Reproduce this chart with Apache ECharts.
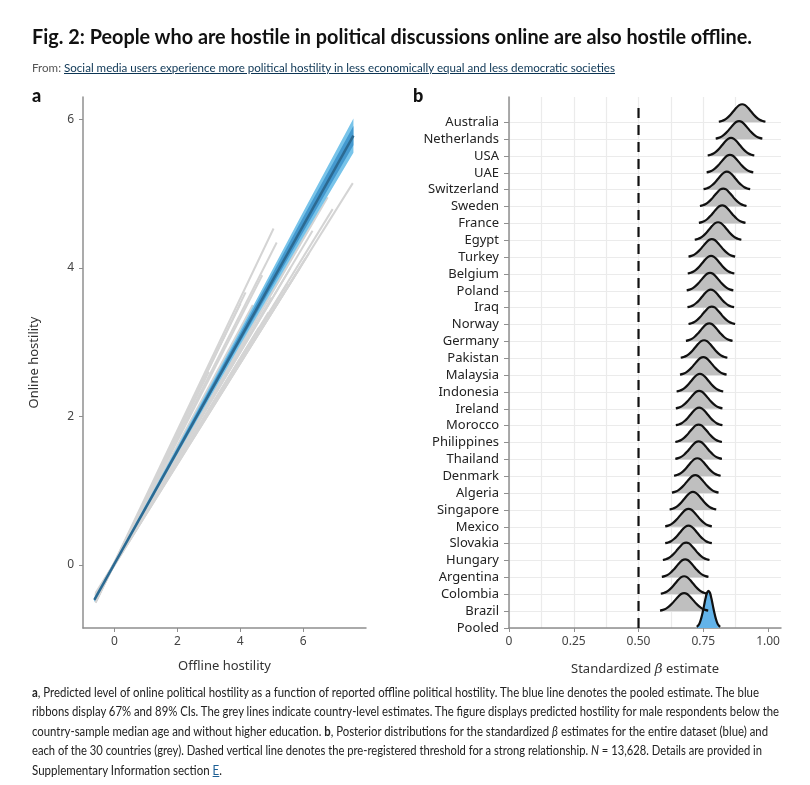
<!DOCTYPE html>
<html>
  <head>
    <meta charset="UTF-8">
    <title>Fig. 2</title>
    <script src="https://cdn.jsdelivr.net/npm/echarts@6/dist/echarts.min.js"></script>
    <style>
    * {
      margin: 0;
      padding: 0;
    }
    body {
      width: 810px;
      height: 785px;
      background: #fff;
      position: relative;
      overflow: hidden;
    }
    .fit {
      position: absolute;
      white-space: nowrap;
      transform-origin: 0 50%;
      font-family: Lato, 'Noto Sans', sans-serif;
      color: #222;
    }
    #title { font-weight: 700; font-size: 21px; line-height: 22px; color: #111; }
    #sub { font-size: 12px; line-height: 14px; color: #555; }
    #sub span { color: #0c3554; text-decoration: underline; }
    .cap { font-size: 12.5px; line-height: 19px; }
    .cap a { color: #1b5e94; text-decoration: underline; }
    .panel { position: absolute; font-family: Lato, sans-serif; font-weight: 900; font-size: 18px; color: #111; }
    </style>
  </head>
  <body>
    <div id="main" style="position:absolute;left:0;top:0;width:810px;height:785px"></div>

    <div class="fit" id="title" data-w="720" style="left:32px;top:25px">Fig. 2: People who are hostile in political discussions online are also hostile offline.</div>
    <div class="fit" id="sub" data-w="583" style="left:32px;top:61px">From: <span>Social media users experience more political hostility in less economically equal and less democratic societies</span></div>
    <div class="panel" style="left:32px;top:84px">a</div>
    <div class="panel" style="left:413px;top:84px">b</div>

    <div class="fit cap" data-w="727" style="left:32px;top:683px"><b>a</b>, Predicted level of online political hostility as a function of reported offline political hostility. The blue line denotes the pooled estimate. The blue</div>
    <div class="fit cap" data-w="747" style="left:32px;top:702px">ribbons display 67% and 89% CIs. The grey lines indicate country-level estimates. The figure displays predicted hostility for male respondents below the</div>
    <div class="fit cap" data-w="736" style="left:32px;top:722px">country-sample median age and without higher education. <b>b</b>, Posterior distributions for the standardized <i>β</i> estimates for the entire dataset (blue) and</div>
    <div class="fit cap" data-w="730" style="left:32px;top:741px">each of the 30 countries (grey). Dashed vertical line denotes the pre-registered threshold for a strong relationship. <i>N</i> = 13,628. Details are provided in</div>
    <div class="fit cap" data-w="190" style="left:32px;top:761px">Supplementary Information section <a>E</a>.</div>

    <script>
// 每行文字按原图宽度压缩
document.querySelectorAll('.fit').forEach(function (el) {
  var w = el.getBoundingClientRect().width
  el.style.transform = 'scaleX(' + (el.dataset.w / w) + ')'
})

// ---- panel a: 线性预测 ----
var offlineTicks = [0, 2, 4, 6]
var onlineTicks = [0, 2, 4, 6]

// pooled estimate
var pooledX = [-0.64, 7.6]
var pooledY = [-0.47, 5.78]

// ribbons (89% / 67%)
var ribbonX = [-0.64, 0, 2, 4, 6, 7.6]
var ribbon89Hi = [-0.44, 0.04, 1.59, 3.16, 4.75, 6.01]
var ribbon89Lo = [-0.50, 0.00, 1.49, 2.96, 4.41, 5.55]
var ribbon67Hi = [-0.455, 0.03, 1.57, 3.12, 4.68, 5.91]
var ribbon67Lo = [-0.485, 0.01, 1.51, 3.00, 4.48, 5.65]

// country lines (grey): start and end points
var lineStartX = [-0.6, -0.6, -0.6, -0.6, -0.6, -0.6, -0.6, -0.6, -0.6, -0.6, -0.6, -0.6, -0.6, -0.6, -0.6,
  -0.6, -0.6, -0.6, -0.6, -0.6, -0.6, -0.6, -0.6, -0.6, -0.6, -0.6, -0.6, -0.6, -0.6, -0.6]
var lineStartY = [-0.50, -0.47, -0.39, -0.42, -0.40, -0.41, -0.41, -0.41, -0.42, -0.50, -0.50, -0.51, -0.43, -0.44, -0.44,
  -0.42, -0.41, -0.41, -0.40, -0.42, -0.41, -0.41, -0.40, -0.45, -0.45, -0.38, -0.50, -0.48, -0.41, -0.45]
var lineEndX = [5.06, 5.16, 7.58, 6.78, 6.94, 6.46, 6.18, 6.08, 5.50, 4.17, 4.01, 3.54, 5.80, 5.30, 4.80,
  4.50, 4.30, 5.00, 4.60, 3.90, 3.60, 5.60, 4.90, 3.20, 4.40, 5.90, 3.00, 4.70, 6.30, 5.45]
var lineEndY = [4.53, 4.34, 5.14, 4.95, 4.79, 4.73, 4.19, 4.13, 3.79, 3.67, 3.52, 3.12, 4.35, 4.10, 3.70,
  3.30, 3.10, 3.60, 3.20, 2.90, 2.60, 4.00, 3.40, 2.50, 3.50, 4.00, 2.60, 3.90, 4.50, 4.25]

// ---- panel b: posterior ridges (index 0 = bottom row) ----
var countries = ['Pooled', 'Brazil', 'Colombia', 'Argentina', 'Hungary', 'Slovakia', 'Mexico', 'Singapore',
  'Algeria', 'Denmark', 'Thailand', 'Philippines', 'Morocco', 'Ireland', 'Indonesia', 'Malaysia', 'Pakistan',
  'Germany', 'Norway', 'Iraq', 'Poland', 'Belgium', 'Turkey', 'Egypt', 'France', 'Sweden', 'Switzerland',
  'UAE', 'USA', 'Netherlands', 'Australia']
var betaPeak = [0.770, 0.676, 0.676, 0.680, 0.684, 0.693, 0.693, 0.710, 0.719, 0.727, 0.732, 0.732,
  0.734, 0.734, 0.737, 0.750, 0.753, 0.773, 0.783, 0.779, 0.776, 0.780, 0.783, 0.807, 0.823, 0.827,
  0.841, 0.853, 0.857, 0.888, 0.900]
var betaSpread = [0.045, 0.093, 0.09, 0.09, 0.09, 0.09, 0.09, 0.09, 0.09, 0.09, 0.09, 0.09, 0.09, 0.09,
  0.09, 0.09, 0.09, 0.09, 0.09, 0.09, 0.09, 0.09, 0.09, 0.09, 0.09, 0.09, 0.09, 0.09, 0.09, 0.09, 0.09]
var ridgeHeight = [2.2, 1.07, 1.07, 1.07, 1.07, 1.07, 1.07, 1.07, 1.07, 1.07, 1.07, 1.07, 1.07, 1.07,
  1.07, 1.07, 1.07, 1.07, 1.07, 1.07, 1.07, 1.07, 1.07, 1.07, 1.07, 1.07, 1.07, 1.07, 1.07, 1.07, 1.07]
// 读出的峰形 (相对位置 / 相对高度)
var profileT = [-1, -0.875, -0.75, -0.625, -0.5, -0.375, -0.25, -0.125, 0,
  0.125, 0.25, 0.375, 0.5, 0.625, 0.75, 0.875, 1]
var profileH = [0.03, 0.07, 0.14, 0.26, 0.42, 0.61, 0.80, 0.95, 1,
  0.95, 0.80, 0.61, 0.42, 0.26, 0.14, 0.07, 0.03]
var betaTicks = [0, 0.25, 0.5, 0.75, 1]
var threshold = 0.5

var font = "'Noto Sans', sans-serif"
var axisGrey = '#8f8f8f'

var series = []

// grey country lines
lineEndX.forEach(function (x, i) {
  series.push({
    type: 'line',
    xAxisIndex: 0,
    yAxisIndex: 0,
    data: [[lineStartX[i], lineStartY[i]], [x, lineEndY[i]]],
    symbol: 'none',
    silent: true,
    lineStyle: { color: '#d4d4d4', width: 2 },
    z: 2
  })
})

function ribbon(hi, lo, color) {
  return {
    type: 'custom',
    xAxisIndex: 0,
    yAxisIndex: 0,
    data: [[0, 0]],
    silent: true,
    z: 3,
    renderItem: function (params, api) {
      var pts = []
      ribbonX.forEach(function (x, k) { pts.push(api.coord([x, hi[k]])) })
      for (var k = ribbonX.length - 1; k >= 0; k--) pts.push(api.coord([ribbonX[k], lo[k]]))
      return { type: 'polygon', shape: { points: pts }, style: { fill: color } }
    }
  }
}
series.push(ribbon(ribbon89Hi, ribbon89Lo, '#78c4ea'))
series.push(ribbon(ribbon67Hi, ribbon67Lo, '#4499cf'))
series.push({
  type: 'line',
  xAxisIndex: 0,
  yAxisIndex: 0,
  data: pooledX.map(function (x, i) { return [x, pooledY[i]] }),
  symbol: 'none',
  silent: true,
  lineStyle: { color: '#2c6a92', width: 2.5 },
  z: 4
})

// threshold
series.push({
  type: 'line',
  xAxisIndex: 1,
  yAxisIndex: 1,
  data: [[threshold, 0], [threshold, 31.2]],
  symbol: 'none',
  silent: true,
  lineStyle: { color: '#111', width: 2.2, type: [10, 7] },
  z: 2
})

// ridges: top row first so lower rows cover it
for (var i = countries.length - 1; i >= 0; i--) {
  var pts = profileT.map(function (t, k) {
    return [betaPeak[i] + t * betaSpread[i], i + profileH[k] * ridgeHeight[i]]
  })
  series.push({
    type: 'line',
    name: countries[i],
    xAxisIndex: 1,
    yAxisIndex: 1,
    data: pts,
    smooth: 0.4,
    symbol: 'none',
    silent: true,
    lineStyle: { color: '#111', width: 2.2 },
    areaStyle: { color: i === 0 ? '#63b3e9' : '#bfbfbf', opacity: 1, origin: i },
    z: 3
  })
}

var myChart = echarts.init(document.getElementById('main'))
myChart.setOption({
  animation: false,
  textStyle: { fontFamily: font },
  grid: [
    { left: 83, top: 97, width: 283, height: 531 },
    { left: 509, top: 97, width: 272, height: 531 }
  ],
  xAxis: [{
    gridIndex: 0,
    type: 'value',
    min: -1,
    max: 8,
    axisLine: { onZero: false, lineStyle: { color: axisGrey, width: 1.5 } },
    axisTick: { customValues: offlineTicks, length: 4, lineStyle: { color: axisGrey } },
    axisLabel: { customValues: offlineTicks, color: '#444', fontSize: 12, fontFamily: font, margin: 8 },
    splitLine: { show: false },
    name: 'Offline hostility',
    nameLocation: 'middle',
    nameGap: 32,
    nameTextStyle: { color: '#333', fontSize: 13, fontFamily: font }
  }, {
    gridIndex: 1,
    type: 'value',
    min: 0,
    max: 1.05,
    interval: 0.25,
    axisLine: { onZero: false, lineStyle: { color: axisGrey, width: 1.5 } },
    axisTick: { customValues: betaTicks, length: 4, lineStyle: { color: axisGrey } },
    axisLabel: {
      customValues: betaTicks,
      color: '#444',
      fontSize: 12,
      fontFamily: font,
      margin: 8,
      formatter: function (v) { return v === 0 ? '0' : v.toFixed(2) }
    },
    splitLine: { show: true, showMaxLine: false, lineStyle: { color: '#ebebeb', width: 1.2 } },
    minorTick: { show: false, splitNumber: 2 },
    minorSplitLine: { show: true, lineStyle: { color: '#ebebeb', width: 1.2 } },
    name: '{n|Standardized }{b|β}{n| estimate}',
    nameLocation: 'middle',
    nameGap: 34,
    nameTextStyle: {
      rich: {
        n: { color: '#333', fontSize: 13, fontFamily: font },
        b: { color: '#333', fontSize: 13.5, fontStyle: 'italic', fontFamily: 'DejaVu Serif' }
      }
    }
  }],
  yAxis: [{
    gridIndex: 0,
    type: 'value',
    min: -0.85,
    max: 6.3,
    axisLine: { show: true, onZero: false, lineStyle: { color: axisGrey, width: 1.5 } },
    axisTick: { show: true, customValues: onlineTicks, length: 4, lineStyle: { color: axisGrey } },
    axisLabel: { customValues: onlineTicks, color: '#444', fontSize: 12, fontFamily: font, margin: 9 },
    splitLine: { show: false },
    name: 'Online hostility',
    nameLocation: 'middle',
    nameGap: 42,
    nameRotate: 90,
    nameTextStyle: { color: '#333', fontSize: 13, fontFamily: font }
  }, {
    gridIndex: 1,
    type: 'value',
    min: 0,
    max: 31.5,
    axisLine: { show: true, onZero: false, lineStyle: { color: axisGrey, width: 1.5 } },
    axisTick: { show: true, customValues: countries.map(function (c, i) { return i }), length: 5, lineStyle: { color: axisGrey } },
    axisLabel: {
      customValues: countries.map(function (c, i) { return i }),
      color: '#222',
      fontSize: 13,
      fontFamily: font,
      margin: 10,
      formatter: function (v) { return countries[v] }
    },
    splitLine: { show: true, lineStyle: { color: '#ebebeb', width: 1.2 } }
  }],
  series: series
})
    </script>
  </body>
</html>
